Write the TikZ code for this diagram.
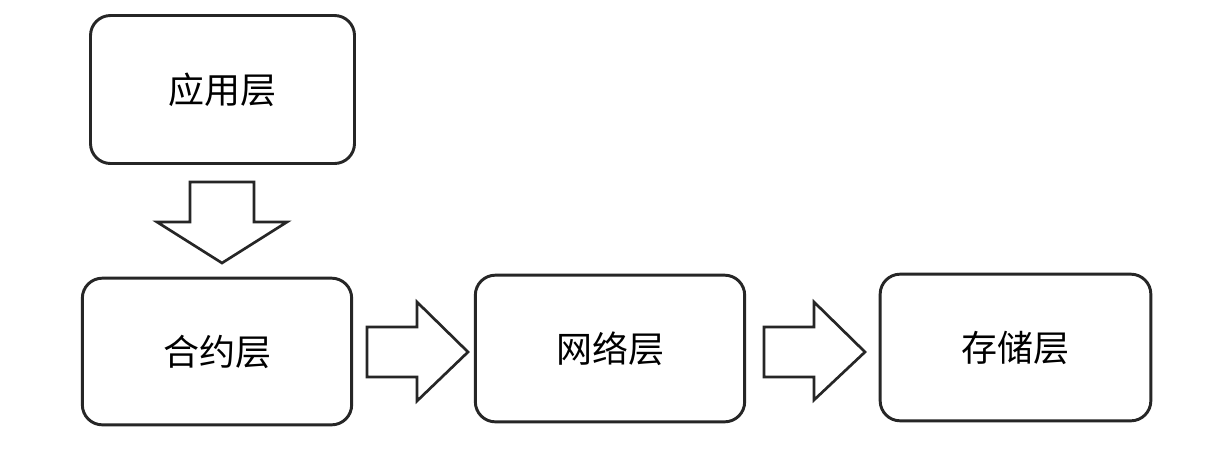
\documentclass[tikz,border=0pt]{standalone}
\usepackage{fontspec}
\newfontfamily\cjk{Noto Sans CJK SC}
\begin{document}
\begin{tikzpicture}[x=0.75pt,y=-0.75pt,
  layer/.style={draw=black!85,line width=2.2pt,rounded corners=15pt,minimum width=200pt,minimum height=110pt,inner sep=0pt,font=\cjk\fontsize{27}{30}\selectfont},
  blockarrow/.style={draw=black!85,line width=2pt,fill=white,line join=miter}]
\useasboundingbox (0,0) rectangle (1210,458);
\fill[white] (0,0) rectangle (1210,458);
\node[layer,minimum width=198pt,minimum height=111pt] (app) at (222.5,89.5) {应用层};
\node[layer,minimum width=202pt,minimum height=110pt] (con) at (217,351.5) {合约层};
\node[layer,minimum width=202pt,minimum height=110pt] (net) at (610,348.5) {网络层};
\node[layer,minimum width=203pt,minimum height=110pt] (sto) at (1015.5,347.5) {存储层};
% down block arrow
\draw[blockarrow] (190,182) -- (254,182) -- (254,222) -- (287,222) -- (222,263) -- (157,222) -- (190,222) -- cycle;
% right block arrows
\draw[blockarrow] (367,327) -- (417,327) -- (417,302) -- (468,352) -- (417,401) -- (417,377) -- (367,377) -- cycle;
\draw[blockarrow] (764,327) -- (814,327) -- (814,302) -- (865,352) -- (814,400) -- (814,377) -- (764,377) -- cycle;
\end{tikzpicture}
\end{document}
